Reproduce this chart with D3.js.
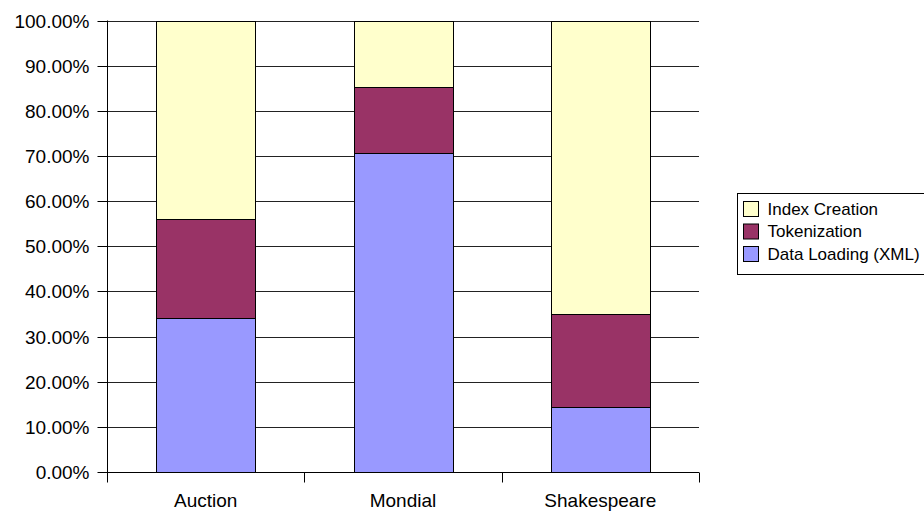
<!DOCTYPE html>
<html>
<head>
<meta charset="utf-8">
<script src="https://cdn.jsdelivr.net/npm/d3@7"></script>
<style>
  html, body { margin: 0; padding: 0; background: #fff; }
  svg { display: block; font-family: "Liberation Sans", Arial, sans-serif; }
</style>
</head>
<body>
<svg id="chart" width="924" height="516"></svg>
<script>
// Share of processing time per dataset (percent of total)
const categories = ["Auction", "Mondial", "Shakespeare"];
const seriesNames = ["Data Loading (XML)", "Tokenization", "Index Creation"];
const dataLoading = [34.2, 70.7, 14.3];
const tokenization = [21.8, 14.6, 20.8];
const indexCreation = [44.0, 14.7, 64.9];
const yTicks = [0, 10, 20, 30, 40, 50, 60, 70, 80, 90, 100];
const colors = ["#9999FF", "#993366", "#FFFFCC"];

const svg = d3.select("#chart");
const plot = { left: 107, right: 699, top: 20.5, bottom: 472 };

const rows = categories.map((c, i) => ({
  category: c,
  [seriesNames[0]]: dataLoading[i],
  [seriesNames[1]]: tokenization[i],
  [seriesNames[2]]: indexCreation[i]
}));
const stacked = d3.stack().keys(seriesNames)(rows);

const x = d3.scaleBand().domain(categories).range([plot.left, plot.right]).paddingInner(0.5).paddingOuter(0.25);
const xBand = d3.scaleBand().domain(categories).range([plot.left, plot.right]);
const y = d3.scaleLinear().domain([0, 100]).range([plot.bottom, plot.top]);
const color = d3.scaleOrdinal().domain(seriesNames).range(colors);

// Horizontal gridlines
svg.append("g")
  .selectAll("line")
  .data(yTicks.filter(t => t > 0))
  .join("line")
  .attr("x1", plot.left).attr("x2", plot.right)
  .attr("y1", d => Math.round(y(d)) + 0.5).attr("y2", d => Math.round(y(d)) + 0.5)
  .attr("stroke", "#222").attr("stroke-width", 1);

// Stacked bars
svg.append("g")
  .selectAll("g")
  .data(stacked)
  .join("g")
  .attr("fill", d => color(d.key))
  .selectAll("rect")
  .data(d => d)
  .join("rect")
  .attr("x", d => Math.round(x(d.data.category)) + 0.5)
  .attr("width", Math.round(x.bandwidth()))
  .attr("y", d => Math.round(y(d[1])) + 0.5)
  .attr("height", d => Math.round(y(d[0])) - Math.round(y(d[1])))
  .attr("stroke", "#000").attr("stroke-width", 1);

// Y axis
const yAxis = svg.append("g")
  .attr("transform", `translate(${plot.left + 0.5},0)`)
  .call(d3.axisLeft(y).tickValues(yTicks).tickSize(10).tickPadding(8)
    .tickFormat(d => d.toFixed(2) + "%"));
yAxis.select(".domain").attr("stroke", "#000").attr("d", `M0,${plot.top}V${plot.bottom}`);
yAxis.selectAll(".tick line").attr("stroke", "#000");
yAxis.selectAll(".tick text").attr("fill", "#000").style("font-size", "19px")
  .attr("dy", "0.35em");
yAxis.selectAll(".tick").attr("transform", d => `translate(0,${Math.round(y(d)) + 0.5})`);

// X axis with ticks at category boundaries
const xg = svg.append("g").attr("transform", `translate(0,${plot.bottom + 0.5})`);
xg.append("line").attr("x1", plot.left).attr("x2", plot.right).attr("stroke", "#000");
const bounds = categories.map(c => xBand(c)).concat([plot.right]);
xg.selectAll("line.tick")
  .data(bounds)
  .join("line")
  .attr("class", "tick")
  .attr("x1", d => Math.round(d) + 0.5).attr("x2", d => Math.round(d) + 0.5)
  .attr("y1", 0).attr("y2", 10)
  .attr("stroke", "#000");
xg.selectAll("text")
  .data(categories)
  .join("text")
  .attr("x", d => xBand(d) + xBand.bandwidth() / 2)
  .attr("y", 34)
  .attr("text-anchor", "middle")
  .style("font-size", "19px")
  .text(d => d);

// Legend
const legend = svg.append("g").attr("transform", "translate(737.5,193.5)");
legend.append("rect").attr("width", 200).attr("height", 81)
  .attr("fill", "#fff").attr("stroke", "#000");
const legendItems = seriesNames.slice().reverse();
const li = legend.selectAll("g.item")
  .data(legendItems)
  .join("g")
  .attr("class", "item")
  .attr("transform", (d, i) => `translate(6,${8 + i * 22.5})`);
li.append("rect").attr("width", 15).attr("height", 15)
  .attr("fill", d => color(d)).attr("stroke", "#000");
li.append("text").attr("x", 24).attr("y", 7.5).attr("dy", "0.35em")
  .style("font-size", "17px").text(d => d);
</script>
</body>
</html>
